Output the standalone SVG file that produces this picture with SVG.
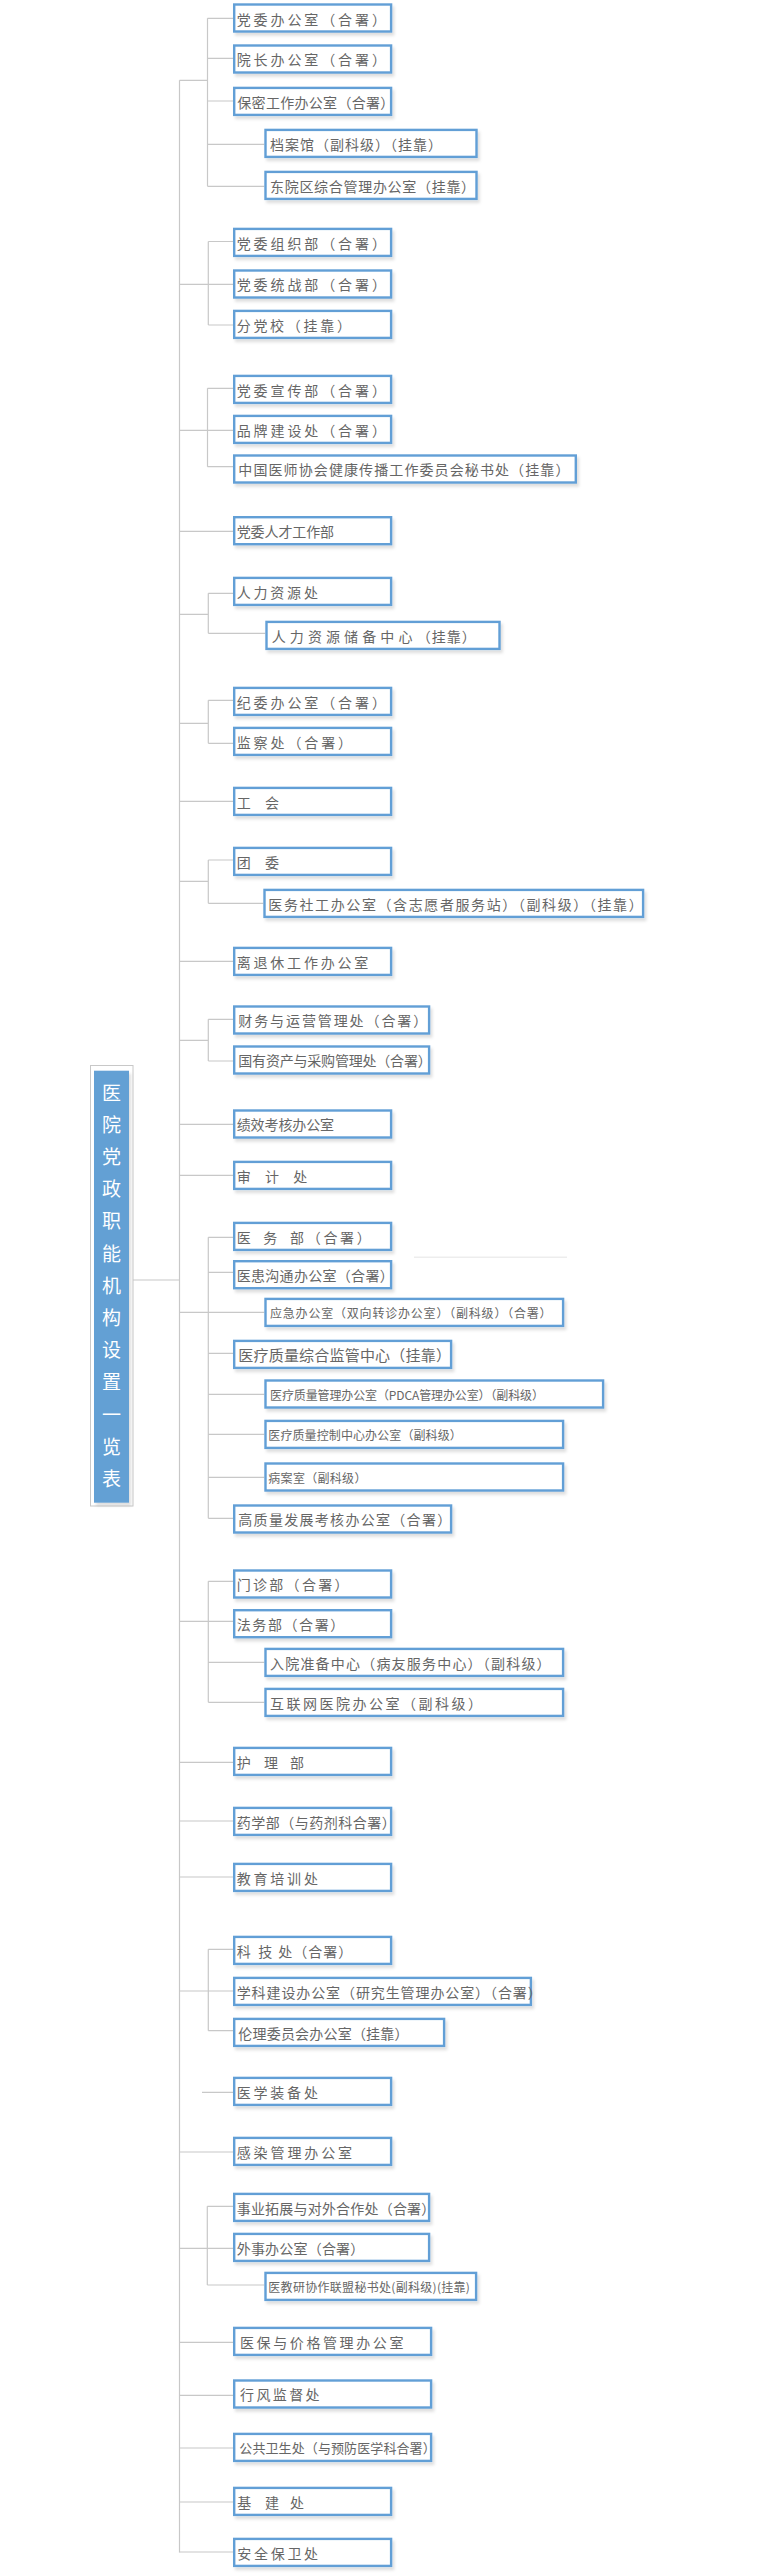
<svg xmlns="http://www.w3.org/2000/svg" width="760" height="2575" viewBox="0 0 760 2575">
<defs>
<filter id="sh" x="-10%" y="-30%" width="125%" height="180%">
<feDropShadow dx="2" dy="3" stdDeviation="1.4" flood-color="#000" flood-opacity="0.13"/>
</filter>
<style>
.b{fill:#fff;stroke:#629fd6;stroke-width:2.4;filter:url(#sh)}
.t{font-family:"Noto Sans CJK SC","Noto Sans",sans-serif;font-size:14px;fill:#666;dominant-baseline:central}
.s{font-size:12px}
.c{fill:none;stroke:#c8c8c8;stroke-width:1.2}
.tt{font-family:"Noto Sans CJK SC","Noto Sans",sans-serif;font-size:19px;fill:#fff;text-anchor:middle;dominant-baseline:central}
</style>
</defs>
<rect width="760" height="2575" fill="#fff"/>
<g id="connectors" class="c">
<path d="M179.5 80.3V2552.5"/>
<path d="M179.5 80.3H207.5M207.5 18.3V186.3M207.5 18.3H233M207.5 58.3H233M207.5 101H233M207.5 144.3H264.3M207.5 186.3H264.3"/>
<path d="M208.3 241.5V325M208.3 241.5H233M179.5 284.3H233M208.3 325H233"/>
<path d="M207.5 388.3V466.7M207.5 388.3H233M179.5 430.3H233M207.5 466.7H233"/>
<path d="M179.5 531.3H233"/>
<path d="M208.3 593.3V633.3M208.3 593.3H233M179.5 614.3H208.3M208.3 633.3H265.3"/>
<path d="M208.3 700.3V743.3M208.3 700.3H233M179.5 723.3H208.3M208.3 743.3H233"/>
<path d="M179.5 801.3H233"/>
<path d="M208.3 860V903.3M208.3 860H233M179.5 881.3H208.3M208.3 903.3H263.3"/>
<path d="M179.5 961.3H233"/>
<path d="M208.3 1019.3V1061M208.3 1019.3H233M179.5 1040.3H208.3M208.3 1061H233"/>
<path d="M179.5 1124.3H233M179.5 1175.3H233"/>
<path d="M208.3 1237.3V1518.3M208.3 1237.3H233M208.3 1272.3H233M179.5 1312.3H264.3M208.3 1353.3H233M208.3 1394.3H264.3M208.3 1434.3H264.3M208.3 1477.3H264.3M208.3 1518.3H233"/>
<path d="M129 1280H179.5"/>
<path d="M208.3 1581.3V1702.3M208.3 1581.3H233M179.5 1621.3H233M208.3 1662.3H264.3M208.3 1702.3H264.3"/>
<path d="M179.5 1762.3H233M179.5 1821H233M179.5 1877H233"/>
<path d="M208.3 1949.3V2030.7M208.3 1949.3H233M179.5 1991H233M208.3 2030.7H233"/>
<path d="M202 2092.3H233M179.5 2152H233"/>
<path d="M207.3 2206.3V2285M207.3 2206.3H233M179.5 2248.3H233M207.3 2285H264.3"/>
<path d="M179.5 2342.3H233M179.5 2395.3H233M179.5 2448H233M179.5 2502H233M179.5 2552H233"/>
<path d="M414 1257.3H567" style="stroke:#ededed;stroke-width:1.5"/>
</g>
<g id="title">
<rect x="90.5" y="1065.5" width="42.5" height="440.5" fill="#fff" stroke="#c8c8c8" stroke-width="1"/>
<rect x="94" y="1070.7" width="35" height="432" fill="#64a0d4" filter="url(#sh)"/>
<text class="tt"><tspan x="111.5" y="1090.5">医</tspan><tspan x="111.5" y="1122.7">院</tspan><tspan x="111.5" y="1154.9">党</tspan><tspan x="111.5" y="1187.1">政</tspan><tspan x="111.5" y="1219.3">职</tspan><tspan x="111.5" y="1251.5">能</tspan><tspan x="111.5" y="1283.7">机</tspan><tspan x="111.5" y="1315.9">构</tspan><tspan x="111.5" y="1348.1">设</tspan><tspan x="111.5" y="1380.3">置</tspan><tspan x="111.5" y="1412.5">一</tspan><tspan x="111.5" y="1444.7">览</tspan><tspan x="111.5" y="1476.9">表</tspan></text>
</g>
<g id="n1"><rect class="b" x="234.2" y="4.5" width="156.9" height="27"/><text class="t" x="236.7" y="18.5" letter-spacing="2.9">党委办公室（合署）</text></g>
<g id="n2"><rect class="b" x="234.2" y="45.5" width="156.9" height="27"/><text class="t" x="236.7" y="59.3" letter-spacing="2.9">院长办公室（合署）</text></g>
<g id="n3"><rect class="b" x="234.2" y="87.9" width="156.9" height="27"/><text class="t" x="237.3" y="101.7" letter-spacing="0.3">保密工作办公室（合署）</text></g>
<g id="n4"><rect class="b" x="265.5" y="129.9" width="211" height="27"/><text class="t" x="270" y="143.7" letter-spacing="1">档案馆（副科级）（挂靠）</text></g>
<g id="n5"><rect class="b" x="265.5" y="171.9" width="211" height="27"/><text class="t" x="270" y="185.7" letter-spacing="0.7">东院区综合管理办公室（挂靠）</text></g>
<g id="n6"><rect class="b" x="234.2" y="228.9" width="156.9" height="27"/><text class="t" x="236.7" y="242.7" letter-spacing="2.9">党委组织部（合署）</text></g>
<g id="n7"><rect class="b" x="234.2" y="270.5" width="156.9" height="27"/><text class="t" x="236.7" y="284.3" letter-spacing="2.9">党委统战部（合署）</text></g>
<g id="n8"><rect class="b" x="234.2" y="310.9" width="156.9" height="27"/><text class="t" x="236.7" y="324.7" letter-spacing="2.7">分党校（挂靠）</text></g>
<g id="n9"><rect class="b" x="234.2" y="375.9" width="156.9" height="27"/><text class="t" x="236.7" y="389.7" letter-spacing="2.9">党委宣传部（合署）</text></g>
<g id="n10"><rect class="b" x="234.2" y="415.9" width="156.9" height="27"/><text class="t" x="236.7" y="429.7" letter-spacing="2.9">品牌建设处（合署）</text></g>
<g id="n11"><rect class="b" x="234.2" y="455.5" width="341.6" height="27"/><text class="t" x="238.3" y="469.3" letter-spacing="1.1">中国医师协会健康传播工作委员会秘书处（挂靠）</text></g>
<g id="n12"><rect class="b" x="234.2" y="517.2" width="156.9" height="27"/><text class="t" x="236.7" y="531" letter-spacing="-0.1">党委人才工作部</text></g>
<g id="n13"><rect class="b" x="234.2" y="577.9" width="156.9" height="27"/><text class="t" x="236.7" y="591.7" letter-spacing="2.8">人力资源处</text></g>
<g id="n14"><rect class="b" x="266.5" y="621.9" width="233" height="27"/><text class="t" y="635.7"><tspan x="271.7" letter-spacing="4.1">人力资源储备中心</tspan><tspan x="416.7" letter-spacing="1">（挂靠）</tspan></text></g>
<g id="n15"><rect class="b" x="234.2" y="687.9" width="156.9" height="27"/><text class="t" x="236.7" y="701.7" letter-spacing="2.9">纪委办公室（合署）</text></g>
<g id="n16"><rect class="b" x="234.2" y="727.9" width="156.9" height="27"/><text class="t" x="236.7" y="741.7" letter-spacing="2.9">监察处（合署）</text></g>
<g id="n17"><rect class="b" x="234.2" y="787.9" width="156.9" height="27"/><text class="t" x="236.7 250 265" y="801.7">工 会</text></g>
<g id="n18"><rect class="b" x="234.2" y="847.9" width="156.9" height="27"/><text class="t" x="236.7 250 265" y="861.7">团 委</text></g>
<g id="n19"><rect class="b" x="264.5" y="889.9" width="378.6" height="27"/><text class="t" x="268.3" y="903.7" letter-spacing="1.6">医务社工办公室（含志愿者服务站）（副科级）（挂靠）</text></g>
<g id="n20"><rect class="b" x="234.2" y="947.9" width="156.9" height="27"/><text class="t" x="236.7" y="961.7" letter-spacing="2.8">离退休工作办公室</text></g>
<g id="n21"><rect class="b" x="234.2" y="1006.5" width="194.9" height="27"/><text class="t" x="238.3" y="1020.3" letter-spacing="1.9">财务与运营管理处（合署）</text></g>
<g id="n22"><rect class="b" x="234.2" y="1046.5" width="194.9" height="27"/><text class="t" x="238.3" y="1060.3" letter-spacing="-0.2">国有资产与采购管理处（合署）</text></g>
<g id="n23"><rect class="b" x="234.2" y="1110.5" width="156.9" height="27"/><text class="t" x="236.7" y="1124.3" letter-spacing="-0.1">绩效考核办公室</text></g>
<g id="n24"><rect class="b" x="234.2" y="1161.9" width="156.9" height="27"/><text class="t" x="236.7 250 265 279 293.3" y="1175.7">审 计 处</text></g>
<g id="n25"><rect class="b" x="234.2" y="1222.9" width="156.9" height="27"/><text class="t" y="1236.7"><tspan x="236.7 250 263.3 277 290">医 务 部</tspan><tspan x="306.7" letter-spacing="2.7">（合署）</tspan></text></g>
<g id="n26"><rect class="b" x="234.2" y="1261.2" width="156.9" height="27"/><text class="t" x="236.7" y="1275" letter-spacing="0.3">医患沟通办公室（合署）</text></g>
<g id="n27"><rect class="b" x="265.5" y="1298.9" width="297.6" height="27"/><text class="t s" x="270" y="1312.7" letter-spacing="0.8">应急办公室（双向转诊办公室）（副科级）（合署）</text></g>
<g id="n28"><rect class="b" x="234.2" y="1340.9" width="216.9" height="27"/><text class="t" x="238.3" y="1354.7" letter-spacing="0.2" style="font-size:15px">医疗质量综合监管中心（挂靠）</text></g>
<g id="n29"><rect class="b" x="265.5" y="1380.5" width="337.6" height="27"/><text class="t s" x="270" y="1394.3" textLength="274" lengthAdjust="spacing">医疗质量管理办公室（PDCA管理办公室）（副科级）</text></g>
<g id="n30"><rect class="b" x="265.5" y="1420.9" width="297.6" height="27"/><text class="t s" x="268.3" y="1434.7" letter-spacing="0.1">医疗质量控制中心办公室（副科级）</text></g>
<g id="n31"><rect class="b" x="265.5" y="1463.5" width="297.6" height="27"/><text class="t s" x="268.3" y="1477.3" letter-spacing="0.3">病案室（副科级）</text></g>
<g id="n32"><rect class="b" x="234.2" y="1505.5" width="216.9" height="27"/><text class="t" x="238.3" y="1519.3" letter-spacing="1.3">高质量发展考核办公室（合署）</text></g>
<g id="n33"><rect class="b" x="234.2" y="1570.5" width="156.9" height="27"/><text class="t" x="236.7" y="1584.3" letter-spacing="2.3">门诊部（合署）</text></g>
<g id="n34"><rect class="b" x="234.2" y="1610.2" width="156.9" height="27"/><text class="t" x="236.7" y="1624" letter-spacing="1.6">法务部（合署）</text></g>
<g id="n35"><rect class="b" x="265.5" y="1648.9" width="297.6" height="27"/><text class="t" x="270" y="1662.7" letter-spacing="1.2">入院准备中心（病友服务中心）（副科级）</text></g>
<g id="n36"><rect class="b" x="265.5" y="1688.9" width="297.6" height="27"/><text class="t" x="270" y="1702.7" letter-spacing="2.5">互联网医院办公室（副科级）</text></g>
<g id="n37"><rect class="b" x="234.2" y="1747.9" width="156.9" height="27"/><text class="t" x="236.7 250 264 277 290" y="1761.7">护 理 部</text></g>
<g id="n38"><rect class="b" x="234.2" y="1807.9" width="156.9" height="27"/><text class="t" x="236.7" y="1821.7" letter-spacing="0.5">药学部（与药剂科合署）</text></g>
<g id="n39"><rect class="b" x="234.2" y="1863.9" width="156.9" height="27"/><text class="t" x="236.7" y="1877.7" letter-spacing="2.8">教育培训处</text></g>
<g id="n40"><rect class="b" x="234.2" y="1936.9" width="156.9" height="27"/><text class="t" y="1950.7"><tspan x="236.7 250 258.3 271 278.3">科 技 处</tspan><tspan x="293.3" letter-spacing="1">（合署）</tspan></text></g>
<g id="n41"><rect class="b" x="234.2" y="1977.9" width="296.7" height="27"/><text class="t" x="236.7" y="1991.7" letter-spacing="0.9">学科建设办公室（研究生管理办公室）（合署）</text></g>
<g id="n42"><rect class="b" x="234.2" y="2018.9" width="209.9" height="27"/><text class="t" x="238.3" y="2032.7" letter-spacing="0.2">伦理委员会办公室（挂靠）</text></g>
<g id="n43"><rect class="b" x="234.2" y="2077.9" width="156.9" height="27"/><text class="t" x="236.7" y="2091.7" letter-spacing="2.8">医学装备处</text></g>
<g id="n44"><rect class="b" x="234.2" y="2137.9" width="156.9" height="27"/><text class="t" x="236.7" y="2151.7" letter-spacing="2.9">感染管理办公室</text></g>
<g id="n45"><rect class="b" x="234.2" y="2193.9" width="194.9" height="27"/><text class="t" x="236.7" y="2207.7" letter-spacing="0.2">事业拓展与对外合作处（合署）</text></g>
<g id="n46"><rect class="b" x="234.2" y="2233.9" width="194.9" height="27"/><text class="t" x="236.7" y="2247.7" letter-spacing="0.2">外事办公室（合署）</text></g>
<g id="n47"><rect class="b" x="265.5" y="2272.9" width="210.6" height="27"/><text class="t s" x="268.3" y="2286.7" letter-spacing="0.3">医教研协作联盟秘书处(副科级)(挂靠)</text></g>
<g id="n48"><rect class="b" x="234.2" y="2327.9" width="196.9" height="27"/><text class="t" x="240" y="2341.7" letter-spacing="2.6">医保与价格管理办公室</text></g>
<g id="n49"><rect class="b" x="234.2" y="2380.5" width="196.9" height="27"/><text class="t" x="240" y="2394.3" letter-spacing="2.4">行风监督处</text></g>
<g id="n50"><rect class="b" x="234.2" y="2433.9" width="196.9" height="27"/><text class="t" x="239.3" y="2447.7" letter-spacing="0.1" style="font-size:13px">公共卫生处（与预防医学科合署）</text></g>
<g id="n51"><rect class="b" x="234.2" y="2487.9" width="156.9" height="27"/><text class="t" x="237.3 251 265 278 290" y="2501.7">基 建 处</text></g>
<g id="n52"><rect class="b" x="234.2" y="2538.9" width="156.9" height="27"/><text class="t" x="237.3" y="2552.7" letter-spacing="2.7">安全保卫处</text></g>
</svg>
